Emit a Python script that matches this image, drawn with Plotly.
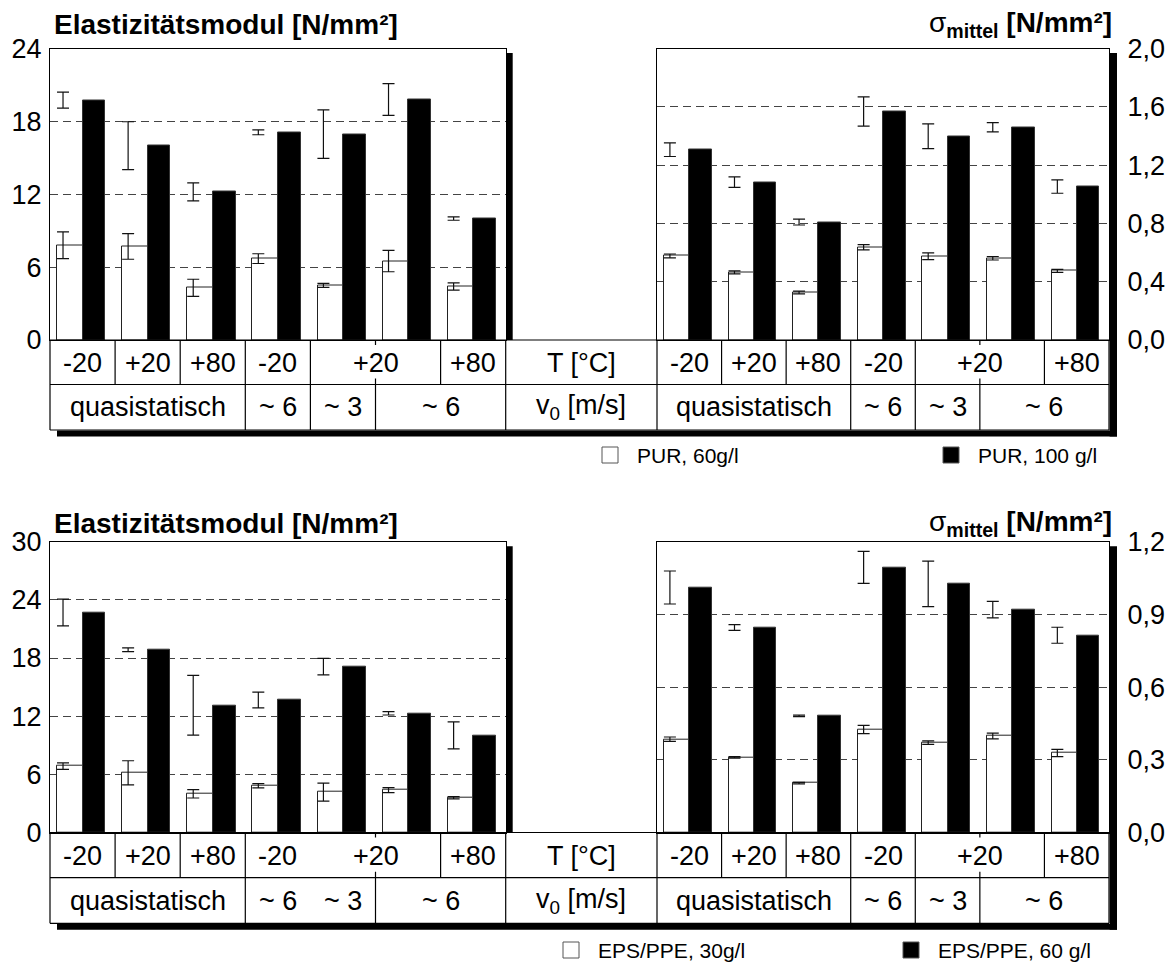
import plotly.graph_objects as go

W, H = 1176, 962

# ---------------- data ----------------
conditions = list(range(7))  # seven test conditions per panel

temp_labels = ["-20", "+20", "+80", "-20", "+20", "+80"]
temp_spans = [1, 1, 1, 1, 2, 1]
speed_labels = ["quasistatisch", "~ 6", "~ 3", "~ 6"]
speed_spans = [3, 1, 1, 2]

# PUR foams
pur_names = ["PUR, 60g/l", "PUR, 100 g/l"]
pur_E_60 = [7.8, 7.7, 4.3, 6.7, 4.5, 6.5, 4.4]
pur_E_60_err = [1.1, 1.05, 0.7, 0.4, 0.17, 0.88, 0.3]
pur_E_100 = [19.75, 16.0, 12.2, 17.1, 16.95, 19.8, 10.0]
pur_E_100_err = [0.66, 1.97, 0.74, 0.2, 2.0, 1.3, 0.14]
pur_S_60 = [0.577, 0.464, 0.326, 0.637, 0.575, 0.561, 0.474]
pur_S_60_err = [0.013, 0.01, 0.01, 0.018, 0.023, 0.012, 0.01]
pur_S_100 = [1.306, 1.083, 0.809, 1.568, 1.398, 1.46, 1.053]
pur_S_100_err = [0.047, 0.036, 0.02, 0.1, 0.085, 0.032, 0.046]

# EPS/PPE foams
eps_names = ["EPS/PPE, 30g/l", "EPS/PPE, 60 g/l"]
eps_E_30 = [6.85, 6.16, 3.99, 4.82, 4.17, 4.37, 3.58]
eps_E_30_err = [0.34, 1.24, 0.43, 0.22, 0.93, 0.26, 0.12]
eps_E_60 = [22.7, 18.85, 13.12, 13.67, 17.11, 12.29, 10.02]
eps_E_60_err = [1.38, 0.2, 3.08, 0.81, 0.85, 0.17, 1.4]
eps_S_30 = [0.385, 0.31, 0.204, 0.425, 0.371, 0.398, 0.328]
eps_S_30_err = [0.009, 0.003, 0.003, 0.017, 0.007, 0.012, 0.015]
eps_S_60 = [1.011, 0.846, 0.481, 1.094, 1.026, 0.92, 0.814]
eps_S_60_err = [0.068, 0.012, 0.003, 0.066, 0.094, 0.034, 0.033]

# ---------------- layout helpers ----------------
FONT = "Liberation Sans, Arial, sans-serif"


def fx(px):
    return px / W


def fy(py):
    return 1 - py / H


LEFT_X = (50, 505.7)
RIGHT_X = (657, 1109)
BLOCKS = [
    dict(top=48.5, base=340, mid=384.5, bottom=430, title_y=24, legend_y=455,
         ymax_e=24, dtick_e=6, ymax_s=2.0, dtick_s=0.4,
         names=pur_names,
         E=(pur_E_60, pur_E_60_err, pur_E_100, pur_E_100_err),
         S=(pur_S_60, pur_S_60_err, pur_S_100, pur_S_100_err),
         row1_full=[1, 2, 3, 4, 6], row2_full=[3, 4, 5],
         legend_x=(602, 943)),
    dict(top=541.7, base=832.5, mid=877.7, bottom=923.3, title_y=523, legend_y=950,
         ymax_e=30, dtick_e=6, ymax_s=1.2, dtick_s=0.3,
         names=eps_names,
         E=(eps_E_30, eps_E_30_err, eps_E_60, eps_E_60_err),
         S=(eps_S_30, eps_S_30_err, eps_S_60, eps_S_60_err),
         row1_full=[1, 2, 3, 6], row2_full=[3, 5],
         legend_x=(563, 903)),
]
RIGHT_ROW1_FULL = [1, 2, 3, 4, 6]
RIGHT_ROW2_FULL = [3, 4, 5]

WHITE_OFF, WHITE_W = 0.305, 0.39
BLACK_OFF, BLACK_W = 0.675, 0.35
ERR_OFF = 0.2

fig = go.Figure()
shapes = []
annotations = []
layout_axes = {}

LINE = dict(color="black", width=1.2)


def add_panel(k, xdom, ydom, ymax, dtick, white, white_err, black, black_err, right_side):
    xa, ya = f"x{k}", f"y{k}"
    fig.add_trace(go.Bar(
        x=[c + WHITE_OFF for c in conditions], y=white, width=WHITE_W,
        marker=dict(color="white", line=dict(color="#222", width=1)),
        xaxis=xa, yaxis=ya, hoverinfo="skip"))
    fig.add_trace(go.Bar(
        x=[c + BLACK_OFF for c in conditions], y=black, width=BLACK_W,
        marker=dict(color="black", line=dict(color="#333", width=1)),
        xaxis=xa, yaxis=ya, hoverinfo="skip"))
    for vals, errs in ((white, white_err), (black, black_err)):
        fig.add_trace(go.Scatter(
            x=[c + ERR_OFF for c in conditions], y=vals, mode="markers",
            marker=dict(size=1, color="rgba(0,0,0,0)"),
            error_y=dict(type="data", array=errs, symmetric=True,
                         color="#111", thickness=1.2, width=6),
            xaxis=xa, yaxis=ya, hoverinfo="skip"))
    sfx = "" if k == 1 else str(k)
    layout_axes["xaxis" + sfx] = dict(
        domain=xdom, range=[0, 7], anchor=ya, showticklabels=False,
        showgrid=False, zeroline=False, showline=True, mirror=True,
        linecolor="black", linewidth=1.2, fixedrange=True)
    ya_cfg = dict(
        domain=ydom, range=[0, ymax], anchor=xa, dtick=dtick, tick0=0,
        showgrid=True, gridcolor="#444", gridwidth=1, griddash="8px,5px",
        zeroline=False, showline=True, mirror=True, linecolor="black",
        linewidth=1.2, ticks="", tickfont=dict(family=FONT, size=27, color="black"),
        fixedrange=True)
    if right_side:
        ya_cfg.update(side="right", tickformat=".1f", ticklabelstandoff=12)
    else:
        ya_cfg.update(ticklabelstandoff=2)
    layout_axes["yaxis" + sfx] = ya_cfg


def table_text(text, x, xref, y):
    annotations.append(dict(
        text=text, x=x, xref=xref, y=fy(y), yref="paper", showarrow=False,
        xanchor="center", yanchor="middle",
        font=dict(family=FONT, size=27, color="black")))


def draw_table(k, b, row1_full, row2_full):
    xa = f"x{k}"
    y_top, y_mid, y_bot = fy(b["base"]), fy(b["mid"]), fy(b["bottom"])
    for g in row1_full:
        shapes.append(dict(type="line", xref=xa, yref="paper", x0=g, x1=g,
                           y0=y_top, y1=y_mid, line=LINE))
    # short marks where the +20 cell spans two conditions
    shapes.append(dict(type="line", xref=xa, yref="paper", x0=5, x1=5,
                       y0=y_top, y1=fy(b["base"] + 5), line=LINE))
    shapes.append(dict(type="line", xref=xa, yref="paper", x0=5, x1=5,
                       y0=fy(b["mid"] - 6), y1=y_mid, line=LINE))
    for g in row2_full:
        shapes.append(dict(type="line", xref=xa, yref="paper", x0=g, x1=g,
                           y0=y_mid, y1=y_bot, line=LINE))
    r1 = (b["base"] + b["mid"]) / 2 + 1
    r2 = (b["mid"] + b["bottom"]) / 2
    pos = 0
    for lab, span in zip(temp_labels, temp_spans):
        table_text(lab, pos + span / 2, xa, r1)
        pos += span
    pos = 0
    for lab, span in zip(speed_labels, speed_spans):
        table_text(lab, pos + span / 2, xa, r2)
        pos += span


k = 1
for b in BLOCKS:
    ydom = [fy(b["base"]), fy(b["top"])]
    w60, w60e, b100, b100e = b["E"]
    add_panel(k, [fx(LEFT_X[0]), fx(LEFT_X[1])], ydom, b["ymax_e"], b["dtick_e"],
              w60, w60e, b100, b100e, right_side=False)
    draw_table(k, b, b["row1_full"], b["row2_full"])
    s60, s60e, s100, s100e = b["S"]
    add_panel(k + 1, [fx(RIGHT_X[0]), fx(RIGHT_X[1])], ydom, b["ymax_s"], b["dtick_s"],
              s60, s60e, s100, s100e, right_side=True)
    draw_table(k + 1, b, RIGHT_ROW1_FULL, RIGHT_ROW2_FULL)

    # outer table frame and the middle column
    y_top, y_mid, y_bot = fy(b["base"]), fy(b["mid"]), fy(b["bottom"])
    for y in (y_top, y_mid, y_bot):
        shapes.append(dict(type="line", xref="paper", yref="paper",
                           x0=fx(LEFT_X[0]), x1=fx(RIGHT_X[1]), y0=y, y1=y, line=LINE))
    for x in (LEFT_X[0], LEFT_X[1], RIGHT_X[0], RIGHT_X[1]):
        shapes.append(dict(type="line", xref="paper", yref="paper", x0=fx(x), x1=fx(x),
                           y0=y_top, y1=y_bot, line=LINE))
    midx = fx((LEFT_X[1] + RIGHT_X[0]) / 2)
    table_text("T [°C]", midx, "paper", (b["base"] + b["mid"]) / 2 + 1)
    table_text("v<sub>0</sub> [m/s]", midx, "paper", (b["mid"] + b["bottom"]) / 2)

    # drop shadows
    shadow = dict(type="rect", xref="paper", yref="paper", fillcolor="black",
                  line=dict(width=0), layer="above")
    shapes.append(dict(shadow, x0=fx(LEFT_X[1] + 0.8), x1=fx(LEFT_X[1] + 7),
                       y0=fy(b["base"]), y1=fy(b["top"] + 4.5)))
    shapes.append(dict(shadow, x0=fx(RIGHT_X[1] + 0.6), x1=fx(RIGHT_X[1] + 8),
                       y0=fy(b["bottom"] + 6.5), y1=fy(b["top"] + 4.5)))
    shapes.append(dict(shadow, x0=fx(LEFT_X[0] + 7), x1=fx(RIGHT_X[1] + 8),
                       y0=fy(b["bottom"] + 6.5), y1=fy(b["bottom"] + 0.6)))

    # axis titles
    annotations.append(dict(
        text="<b>Elastizitätsmodul [N/mm²]</b>", x=fx(52), y=fy(b["title_y"]),
        xref="paper", yref="paper", xanchor="left", yanchor="middle", showarrow=False,
        font=dict(family=FONT, size=28, color="black")))
    annotations.append(dict(
        text="σ<sub><b>mittel</b></sub> <b>[N/mm²]</b>", x=fx(1114), y=fy(b["title_y"]),
        xref="paper", yref="paper", xanchor="right", yanchor="middle", showarrow=False,
        font=dict(family=FONT, size=28, color="black")))

    # legend
    lx_white, lx_black = b["legend_x"]
    ly = b["legend_y"]
    for lx, fill, name in ((lx_white, "white", b["names"][0]), (lx_black, "black", b["names"][1])):
        shapes.append(dict(type="rect", xref="paper", yref="paper",
                           x0=fx(lx), x1=fx(lx + 16), y0=fy(ly + 8), y1=fy(ly - 8),
                           fillcolor=fill, line=dict(color="#555", width=1)))
        annotations.append(dict(
            text=name, x=fx(lx + 33), y=fy(ly), xref="paper", yref="paper",
            xanchor="left", yanchor="middle", showarrow=False,
            font=dict(family=FONT, size=21, color="black")))
    k += 2

fig.update_layout(
    width=W, height=H, autosize=False,
    margin=dict(l=0, r=0, t=0, b=0, autoexpand=False),
    paper_bgcolor="white", plot_bgcolor="white",
    barmode="overlay", bargap=0, showlegend=False,
    separators=",.",
    shapes=shapes, annotations=annotations,
    **layout_axes,
)

fig.write_html("out.html")
